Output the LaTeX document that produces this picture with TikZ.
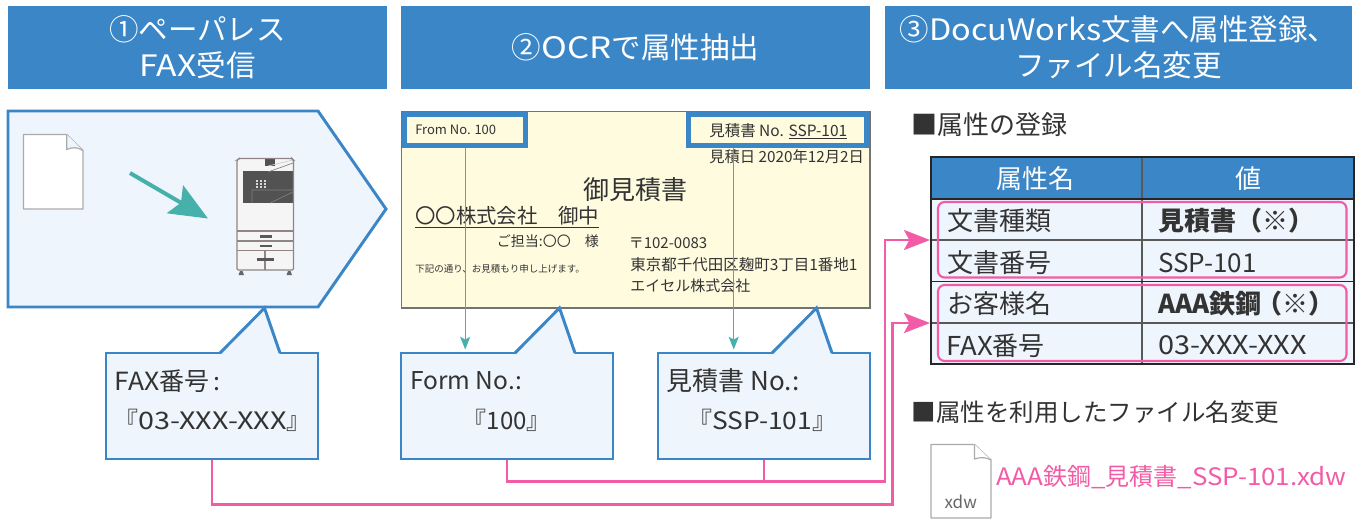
\documentclass[tikz,border=0pt]{standalone}
\usepackage{fontspec}
\setmainfont{Noto Sans CJK JP}
\usetikzlibrary{arrows.meta,calc}
\definecolor{hdrblue}{HTML}{3B86C7}
\definecolor{palefill}{HTML}{EFF5FC}
\definecolor{paper}{HTML}{FEFBDF}
\definecolor{hotpink}{HTML}{F25CA6}
\definecolor{tealc}{HTML}{46B1AA}
\definecolor{inkc}{HTML}{333333}
\definecolor{printerline}{HTML}{8F8585}
\newlength\pxu \setlength\pxu{0.75pt}
\newcommand\fs[1]{\fontsize{\fpeval{#1*0.75}pt}{\fpeval{#1*0.75*1.22}pt}\selectfont}
\newcommand\ls[2]{{\addfontfeature{LetterSpace=#1}#2}}
\newcommand\st[2]{{\addfontfeature{FakeStretch=#1}#2}}
\newcommand\calloutbox[3]{%
  \node[calloutstyle] (#1) at (#2,406) {};
  \begin{scope}[shift={(#2,353)}]
    \fill[palefill] (8,2) -- (52.5,-45) -- (68,2) -- cycle;
    \draw[blueline,line join=miter] (8,0) -- (52.5,-45) -- (68,0);
  \end{scope}
  #3}
\tikzset{
  x=0.75pt,y=-0.75pt,
  header/.style={fill=hdrblue,text=white,align=center,inner sep=0pt,font=\fs{29.5},minimum height=83*\pxu},
  blueline/.style={draw=hdrblue,line width=2.2pt},
  calloutstyle/.style={draw=hdrblue,line width=2.2pt,fill=palefill,minimum width=212*\pxu,minimum height=106*\pxu,inner sep=0pt},
  txt/.style={anchor=west,inner sep=0pt,text=inkc},
  ctxt/.style={anchor=center,inner sep=0pt,text=inkc},
  tagbox/.style={draw=hdrblue,line width=3.75pt,inner sep=0pt,minimum height=30.5*\pxu},
  pinkline/.style={draw=hotpink,line width=2pt,line join=miter,-{Stealth[length=19.5pt,width=15pt,inset=4pt]}},
  pinkplain/.style={draw=hotpink,line width=2pt},
  tealline/.style={draw=tealc,line width=1pt,-{Stealth[length=9.5pt,width=7.5pt,inset=2pt]}},
  pagestyle/.style={draw=black!33,fill=white,line width=0.9pt,line join=round},
  gridline/.style={draw=black!65,line width=0.8pt},
  pinkround/.style={draw=hotpink,line width=1.6pt,rounded corners=5pt},
}
\begin{document}
\begin{tikzpicture}
\useasboundingbox (0,0) rectangle (1359,519);
\fill[white] (0,0) rectangle (1359,519);
% headers
\node[header,minimum width=379*\pxu] (h1) at (197.5,47.5) {①ペーパレス\\\st{1.14}{FAX}受信};
\node[header,minimum width=469*\pxu] (h2) at (635.5,47.5) {②\st{1.18}{OCR}で属性抽出};
\node[header,minimum width=467*\pxu] (h3) at (1118.5,47.5) {③\st{1.1}{DocuWorks}文書へ属性登録、\\ファイル名変更};
% pentagon with page and printer
\draw[blueline,fill=palefill,line join=miter] (8,111) -- (318,111) -- (386,209) -- (318,307) -- (8,307) -- cycle;
\draw[pagestyle] (23.5,134.5) -- (66.7,134.5) -- (83,150.5) -- (83,209) -- (23.5,209) -- cycle;
\draw[pagestyle,fill=palefill] (66.7,134.5) -- (66.7,149.5) .. controls (72,147) and (78,147) .. (83,150.5);
\coordinate (arrowstart) at (130,173);
\coordinate (arrowtip) at (208,218.5);
\draw[draw=tealc,line width=3pt,-{Stealth[length=28.5pt,width=24pt,inset=5pt]}] (arrowstart) -- (arrowtip);
% printer
\fill[white!96!black] (237,159) rectangle (293.5,270);
\fill[black!68] (243,170.5) rectangle (293.5,203);
\fill[white!96!black] (236.5,170) rectangle (243,203);
\fill[black!68] (265,159) rectangle (275,165.5);
\foreach \kx in {256.5,260.5,264.5}{\foreach \ky in {181,184,187}{\fill[white!85!black] (\kx-1,\ky-1) rectangle (\kx+1,\ky+1);}}
\draw[black!50,line width=0.5pt] (268,172) -- (293,163) (252,203) -- (252,190) -- (293,190) (270,203) -- (293,192);
\draw[white!80!black,line width=0.5pt] (268,166) -- (293,160);
\draw[printerline,line width=0.9pt,rounded corners=1pt] (237,270) -- (237,160) -- (239,158.5) -- (292,158.5) -- (293.5,160) -- (293.5,270) -- cycle;
\draw[printerline,line width=0.8pt] (237,231) -- (293.5,231) (237,241) -- (293.5,241) (237,250.5) -- (293.5,250.5) (265,250.5) -- (265,270);
\draw[black!65,line width=1.8pt] (259.5,236.5) -- (271.5,236.5) (259.5,246) -- (271.5,246) (256.5,259.5) -- (274,259.5);
\fill[black!60] (238.5,275) -- (240,271) -- (242.5,271) -- (244,275) -- cycle (286.5,275) -- (288,271) -- (290.5,271) -- (292,275) -- cycle;
% paper
\draw[draw=black!55,line width=0.9pt,fill=paper] (401.5,111.5) rectangle (870,308);
\node[tagbox,minimum width=120.5*\pxu] (fromtag) at (465.2,130.2) {};
\node[tagbox,minimum width=178.5*\pxu] (esttag) at (777.7,130.2) {};
\node[txt,font=\fs{13}] (fromtxt) at (415,130) {From No. 100};
\node[txt,font=\fs{15.5}] (esttxt) at (709,131) {見積書 No. \underline{SSP-101}};
\node[txt,font=\fs{15.3}] (datetxt) at (709,157) {見積日 2020年12月2日};
\node[ctxt,font=\fs{26}] (title) at (635.5,190) {御見積書};
\node[txt,font=\fs{20.4}] (client) at (415,217) {\underline{〇〇株式会社　御中}};
\node[txt,font=\fs{14}] (person) at (496.7,241.5) {ご担当:〇〇　様};
\node[txt,font=\fs{15}] (zip) at (628.5,243) {〒102-0083};
\node[txt,font=\fs{9.5}] (notice) at (415,269) {下記の通り、お見積もり申し上げます。};
\node[txt,font=\fs{15.5}] (addr) at (630,265) {東京都千代田区麹町3丁目1番地1};
\node[txt,font=\fs{15}] (company) at (630,285.7) {エイセル株式会社};
% callouts
\calloutbox{faxbox}{212}{}
\calloutbox{formbox}{507}{}
\calloutbox{estbox}{764}{}
\node[txt,font=\fs{25}] (faxa) at (114.5,381) {\st{1.06}{FAX}番号\,:};
\node[txt,font=\fs{24}] (faxb) at (114,420) {『\st{1.2}{03-XXX-XXX}』};
\node[txt,font=\fs{24.5}] (forma) at (410,381) {Form No.:};
\node[txt,font=\fs{24}] (formb) at (462.5,420) {『100』};
\node[txt,font=\fs{26}] (esta) at (666.5,381) {見積書 No.:};
\node[txt,font=\fs{24}] (estb) at (688,420) {『\st{1.1}{SSP-101}』};
% teal connectors
\coordinate (esttagout) at (733.7,147.5);
\coordinate (estin) at (733.7,349.5);
\coordinate (formin) at (465.2,349.5);
\draw[tealline] (fromtag.south) -- (formin);
\draw[tealline] (esttagout) -- (estin);
% right side
\node[txt,font=\fs{26}] (attrhead) at (911,125) {■属性の登録};
\fill[palefill] (931,199) rectangle (1354,364);
\fill[hdrblue] (931,157) rectangle (1354,199);
\draw[gridline] (931,240) -- (1354,240) (931,323) -- (1354,323) (1142,157) -- (1142,364);
\draw[black!85,line width=0.8pt] (931,199) -- (1354,199) (931,281.7) -- (1354,281.7);
\draw[black!85,line width=1pt] (931,157) rectangle (1354,364);
\node[ctxt,text=white,font=\fs{26}] (colname) at (1035.5,179) {属性名};
\node[ctxt,text=white,font=\fs{26}] (colval) at (1248,179) {値};
\node[txt,font=\fs{26}] (r1a) at (947,221) {文書種類};
\node[txt,font=\fs{26}] (r2a) at (947,262.5) {文書番号};
\node[txt,font=\fs{26}] (r3a) at (947,304) {お客様名};
\node[txt,font=\fs{26}] (r4a) at (946,345.5) {\st{1.06}{FAX}番号};
\node[txt,font=\fs{26}\bfseries] (r1b) at (1158,221) {見積書（※）};
\node[txt,font=\fs{26}] (r2b) at (1158,262.5) {SSP-101};
\node[txt,font=\fs{26}\bfseries] (r3b) at (1158,304) {AAA鉄鋼\kern-4pt（※）};
\node[txt,font=\fs{26}] (r4b) at (1158,345.5) {\st{1.11}{03-XXX-XXX}};
\draw[pinkround] (938,202) rectangle (1346.5,277.5);
\draw[pinkround] (938,285) rectangle (1346.5,361);
% pink connectors
\coordinate (targeta) at (930,240);
\coordinate (targetb) at (930,323);
\coordinate (busa) at (885,481.7);
\coordinate (busb) at (892.7,504.5);
\draw[pinkplain] (estbox.south) -- (estbox.south |- busa);
\draw[pinkline] (formbox.south) |- (busa) |- (targeta);
\draw[pinkline] (faxbox.south) |- (busb) |- (targetb);
% file name
\node[txt,font=\fs{24.5}] (filehead) at (911.5,412) {■属性を利用したファイル名変更};
\draw[pagestyle] (931,444.5) -- (974.5,444.5) -- (991,460) -- (991,518) -- (931,518) -- cycle;
\draw[pagestyle] (974.5,444.5) -- (974.5,459) .. controls (980,457) and (986,457) .. (991,460);
\node[ctxt,text=black!60,font=\fs{17}] (xdw) at (960.7,501.5) {xdw};
\node[txt,text=hotpink,font=\fs{24}] (fname) at (996,476.7) {\st{1.08}{AAA}鉄鋼\st{1.08}{\_}見積書\st{1.08}{\_SSP-101.xdw}};
\end{tikzpicture}
\end{document}
